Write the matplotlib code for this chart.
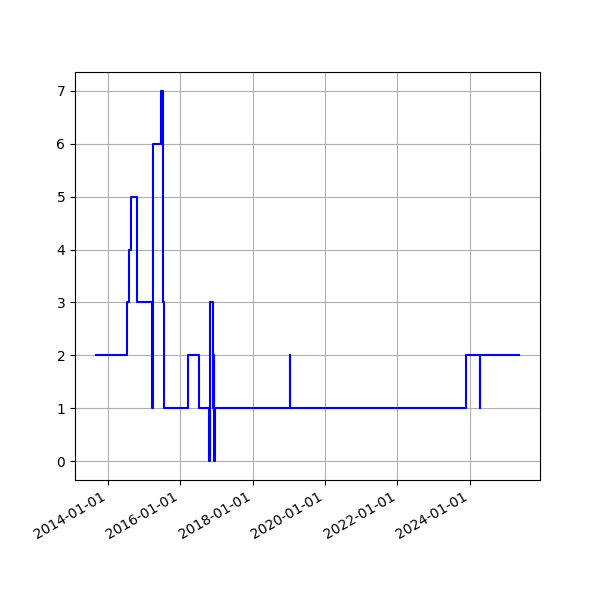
import pandas as pd
import matplotlib
matplotlib.use("Agg")
import matplotlib.pyplot as plt
import matplotlib.dates as mdates

# change points (value holds until the next date)
dates = ['2013-09-02', '2014-07-08', '2014-07-31', '2014-08-23', '2014-10-20',
         '2015-03-20', '2015-03-26', '2015-06-18', '2015-07-11', '2015-07-15',
         '2016-03-22', '2016-07-04', '2016-10-16', '2016-10-26', '2016-11-25',
         '2016-12-02', '2016-12-09', '2016-12-17', '2019-01-08', '2019-01-15',
         '2023-11-25', '2024-04-11', '2024-04-18', '2025-05-11']
values = [2, 3, 4, 5, 3,
          1, 6, 7, 3, 1,
          2, 1, 0, 3, 1,
          2, 0, 1, 2, 1,
          2, 1, 2, 2]

x = pd.to_datetime(dates)

fig, ax = plt.subplots(figsize=(6, 6), dpi=100)
ax.plot(x, values, color='blue', drawstyle='steps-post')
ax.xaxis.set_major_formatter(mdates.DateFormatter('%Y-%m-%d'))
ax.grid(True)
fig.autofmt_xdate()
fig.savefig('out.png')
